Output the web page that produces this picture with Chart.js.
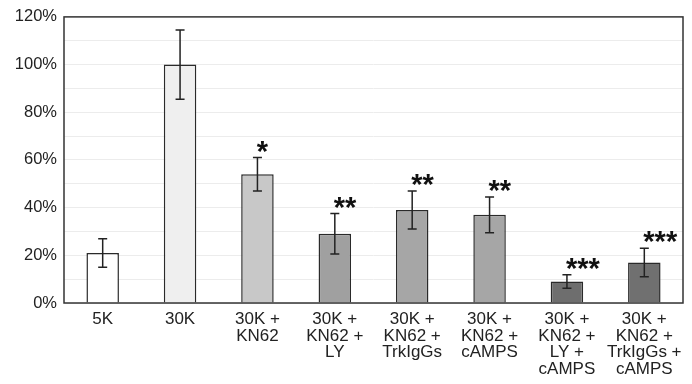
<!DOCTYPE html>
<html>
<head>
<meta charset="utf-8">
<script src="https://cdn.jsdelivr.net/npm/chart.js@4"></script>
<style>
    body { margin: 0; background: #fff; }
    #wrap { width: 692px; height: 384px; }
</style>
</head>
<body>
<div id="wrap"><canvas id="BarChart" width="692" height="384"></canvas></div>
<script>
var labels = [
    ["5K"],
    ["30K"],
    ["30K +", "KN62"],
    ["30K +", "KN62 +", "LY"],
    ["30K +", "KN62 +", "TrkIgGs"],
    ["30K +", "KN62 +", "cAMPS"],
    ["30K +", "KN62 +", "LY +", "cAMPS"],
    ["30K +", "KN62 +", "TrkIgGs +", "cAMPS"]
];
var values = [21, 100, 54, 29, 39, 37, 9, 17];
var errors = [6, 14.5, 7, 8.5, 8, 7.5, 2.8, 6];
var stars = ["", "", "*", "**", "**", "**", "***", "***"];
var colors = ["#ffffff", "#efefef", "#c8c8c8", "#a0a0a0", "#a6a6a6", "#a6a6a6", "#6e6e6e", "#707070"];

//Error bars, significance stars and the frame
var extras = {
    id: "extras",
    afterDatasetsDraw: function(chart){
        var ctx = chart.ctx;
        var x = chart.scales.x, y = chart.scales.y;
        ctx.save();
        ctx.strokeStyle = "#222";
        ctx.lineWidth = 1.5;
        for(let i = 0; i < values.length; i++){
            let cx = x.getPixelForValue(i);
            let top = y.getPixelForValue(values[i] + errors[i]);
            let bot = y.getPixelForValue(values[i] - errors[i]);
            ctx.beginPath();
            ctx.moveTo(cx, top); ctx.lineTo(cx, bot);
            ctx.moveTo(cx - 4.5, top); ctx.lineTo(cx + 4.5, top);
            ctx.moveTo(cx - 4.5, bot); ctx.lineTo(cx + 4.5, bot);
            ctx.stroke();
            if(stars[i]){
                ctx.fillStyle = "#111";
                ctx.font = "bold 29px 'Liberation Sans', Arial, sans-serif";
                ctx.textBaseline = "alphabetic";
                ctx.textAlign = stars[i].length === 1 ? "center" : "left";
                let sx = stars[i].length === 1 ? cx + 5 : cx - 1;
                ctx.fillText(stars[i], sx, top + 3);
            }
        }
        var a = chart.chartArea;
        ctx.strokeStyle = "#333";
        ctx.lineWidth = 1.5;
        ctx.strokeRect(a.left, a.top, a.right - a.left, a.bottom - a.top);
        ctx.restore();
    }
};

var config = {
    type: "bar",
    data: {
        labels: labels,
        datasets: [{
            data: values,
            backgroundColor: colors,
            borderColor: "#2a2a2a",
            borderWidth: 1.5,
            barPercentage: 0.42,
            categoryPercentage: 1.0
        }]
    },
    options: {
        responsive: false,
        animation: false,
        layout: { padding: { top: 15, right: 9, left: 0, bottom: 0 } },
        plugins: { legend: { display: false }, tooltip: { enabled: false } },
        scales: {
            x: {
                grid: { display: false },
                border: { display: false },
                ticks: {
                    color: "#222",
                    padding: 0,
                    maxRotation: 0,
                    autoSkip: false,
                    font: { family: "'Liberation Sans', Arial, sans-serif", size: 17, lineHeight: 0.98 }
                },
                afterFit: function(scale){ scale.height = 81; }
            },
            y: {
                min: 0,
                max: 120,
                grid: { color: "#ececec", drawTicks: false },
                border: { display: false },
                ticks: {
                    stepSize: 10,
                    color: "#222",
                    padding: 7,
                    font: { family: "'Liberation Sans', Arial, sans-serif", size: 16.5 },
                    callback: function(v){ return v % 20 === 0 ? v + "%" : ""; }
                },
                afterFit: function(scale){ scale.width = 64; }
            }
        }
    },
    plugins: [extras]
};
var canvasBG = new Chart(document.getElementById("BarChart"), config);
</script>
</body>
</html>
